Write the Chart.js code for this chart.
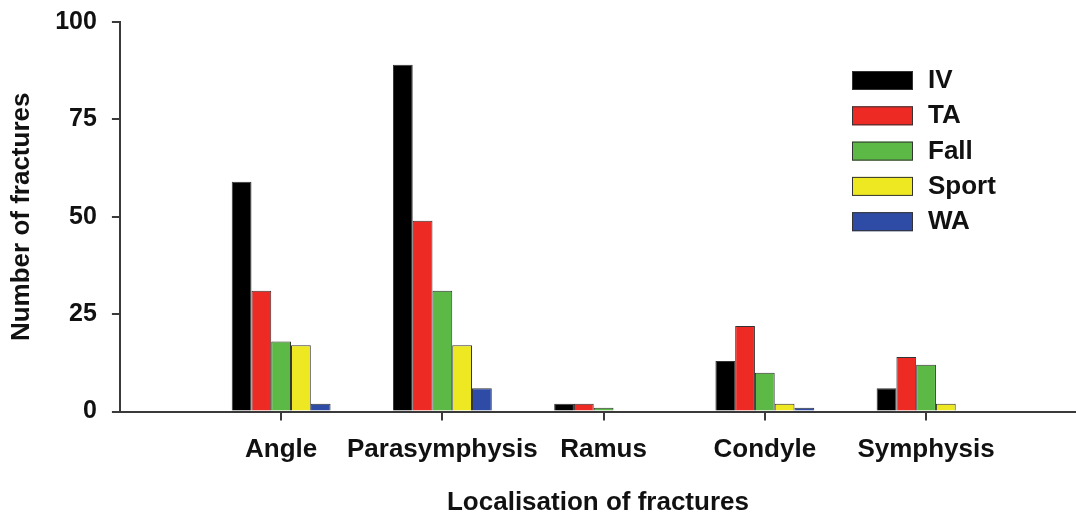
<!DOCTYPE html>
<html>
<head>
<meta charset="utf-8">
<script src="https://cdn.jsdelivr.net/npm/chart.js@4"></script>
<style>
  body { margin: 0; background: #fff; }
</style>
</head>
<body>
<canvas id="chart" width="1076" height="519"></canvas>
<script>
var categories = ['Angle', 'Parasymphysis', 'Ramus', 'Condyle', 'Symphysis'];
var seriesNames = ['IV', 'TA', 'Fall', 'Sport', 'WA'];
var ivValues = [59, 89, 2, 13, 6];
var taValues = [31, 49, 2, 22, 14];
var fallValues = [18, 31, 1, 10, 12];
var sportValues = [17, 17, 0, 2, 2];
var waValues = [2, 6, 0, 1, 0];
var yTicks = [0, 25, 50, 75, 100];

var colors = ['#000000', '#ee2a24', '#5cb946', '#eee823', '#2e4ba5'];
var allValues = [ivValues, taValues, fallValues, sportValues, waValues];

var fontFamily = "'Liberation Sans', Arial, sans-serif";
var axisColor = '#3a3a3a';

// categories sit at x = 1..5 on a linear axis
function toPoints(vals) {
    return vals.map(function (v, i) { return { x: i + 1, y: v }; });
}

var datasets = allValues.map(function (vals, i) {
    return {
        label: seriesNames[i],
        data: toPoints(vals),
        backgroundColor: colors[i],
        borderColor: '#333333',
        borderWidth: 1,
        borderSkipped: 'bottom',
        categoryPercentage: 0.613,
        barPercentage: 1
    };
});

// legend drawn inside the plot, top right
var boxLegend = {
    id: 'boxLegend',
    afterDraw: function (chart) {
        var c = chart.ctx;
        var area = chart.chartArea;
        var x = area.right - 224;
        var y = area.top + 49;
        c.save();
        c.font = 'bold 26px ' + fontFamily;
        c.textBaseline = 'middle';
        chart.data.datasets.forEach(function (ds, i) {
            var top = y + i * 35.3;
            c.fillStyle = ds.backgroundColor;
            c.fillRect(x, top, 61, 19);
            c.strokeStyle = '#333';
            c.lineWidth = 1;
            c.strokeRect(x + 0.5, top + 0.5, 60, 18);
            c.fillStyle = '#111';
            c.fillText(ds.label, x + 76, top + 10);
        });
        c.restore();
    }
};

var ctx = document.getElementById('chart').getContext('2d');
var myChart = new Chart(ctx, {
    type: 'bar',
    data: { datasets: datasets },
    options: {
        responsive: false,
        animation: false,
        layout: { padding: 0 },
        plugins: {
            legend: { display: false },
            tooltip: { enabled: false }
        },
        scales: {
            x: {
                type: 'linear',
                min: 0,
                max: 5.93,
                offset: false,
                grid: {
                    offset: false,
                    drawOnChartArea: false,
                    tickLength: 9,
                    lineWidth: 2,
                    color: axisColor,
                    tickColor: function (c) { return c.tick && c.tick.value === 0 ? 'rgba(0,0,0,0)' : axisColor; }
                },
                border: { display: true, color: axisColor, width: 2 },
                ticks: {
                    stepSize: 1,
                    includeBounds: false,
                    autoSkip: false,
                    maxRotation: 0,
                    minRotation: 0,
                    padding: 14,
                    color: '#111',
                    font: { family: fontFamily, size: 26, weight: 'bold' },
                    callback: function (v) { return categories[v - 1] || ''; }
                },
                title: {
                    display: true,
                    text: 'Localisation of fractures',
                    color: '#111',
                    font: { family: fontFamily, size: 26, weight: 'bold' },
                    padding: { top: 7, bottom: 1 }
                }
            },
            y: {
                min: 0,
                max: 100,
                afterBuildTicks: function (axis) {
                    axis.ticks = yTicks.map(function (v) { return { value: v }; });
                },
                afterFit: function (axis) {
                    axis.paddingTop = 22;
                },
                grid: {
                    drawOnChartArea: false,
                    tickLength: 8,
                    lineWidth: 2,
                    color: axisColor
                },
                border: { display: true, color: axisColor, width: 2 },
                ticks: {
                    padding: 15,
                    color: '#111',
                    font: { family: fontFamily, size: 25, weight: 'bold' }
                },
                title: {
                    display: true,
                    text: 'Number of fractures',
                    color: '#111',
                    font: { family: fontFamily, size: 26, weight: 'bold' },
                    padding: { top: 6, bottom: 3 }
                }
            }
        }
    },
    plugins: [boxLegend]
});
</script>
</body>
</html>
